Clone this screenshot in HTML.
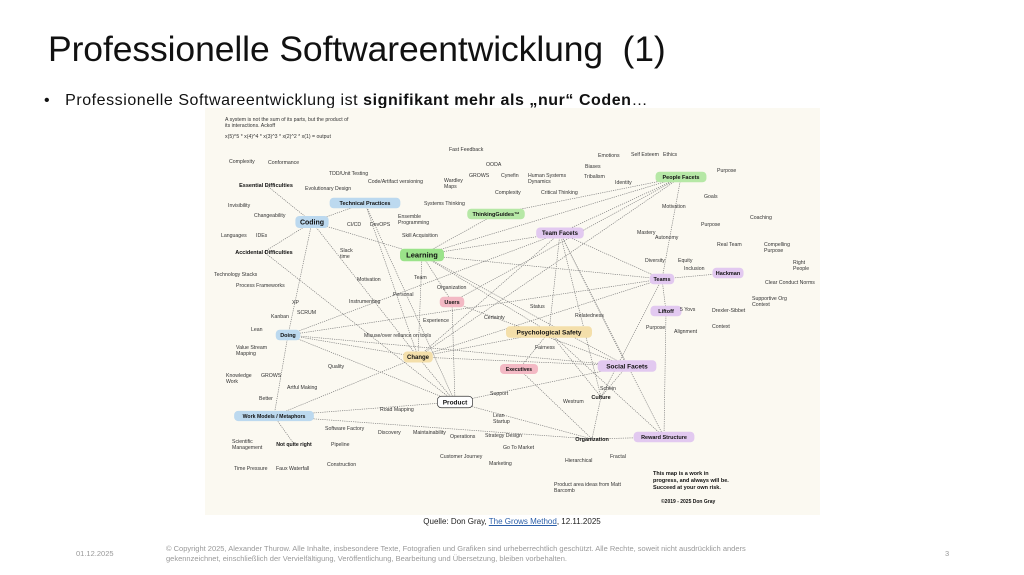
<!DOCTYPE html>
<html><head><meta charset="utf-8"><style>
html,body{margin:0;padding:0;background:#fff;}
body{width:1024px;height:575px;overflow:hidden;position:relative;font-family:"Liberation Sans",sans-serif;}
.t{position:absolute;left:48px;top:29px;font-size:35.5px;color:#111;letter-spacing:-0.1px;}
.b{position:absolute;left:44px;top:92px;font-size:16px;color:#111;letter-spacing:0.55px;}
.map{position:absolute;left:205px;top:108px;width:615px;height:407px;background:#fbf9f1;}
svg text{font-family:"Liberation Sans",sans-serif;font-size:5.2px;fill:#333;}
.q{position:absolute;left:0;width:1024px;text-align:center;top:517px;font-size:8px;color:#222;}
.f{position:absolute;font-size:7.5px;color:#999;}
</style></head><body>
<div class="t">Professionelle Softwareentwicklung&nbsp; (1)</div>
<div class="b">•&nbsp;&nbsp; Professionelle Softwareentwicklung ist <b>signifikant mehr als „nur“ Coden</b>…</div>
<div class="map"></div>
<svg width="1024" height="575" style="position:absolute;left:0;top:0">
<g id="L" stroke="#777" stroke-width="0.65" stroke-dasharray="1.2,1" fill="none"></g>
<g id="N"></g>
<text x="225" y="121">A system is not the sum of its parts, but the product of</text>
<text x="225" y="127">its interactions. Ackoff</text>
<text x="225" y="138">x(5)^5 * x(4)^4 * x(3)^3 * x(2)^2 * x(1) = output</text>
<text x="229" y="163">Complexity</text><text x="268" y="164">Conformance</text>
<text x="228" y="207">Invisibility</text><text x="254" y="217">Changeability</text>
<text x="221" y="237">Languages</text><text x="256" y="237">IDEs</text>
<text x="214" y="276">Technology Stacks</text><text x="236" y="287">Process Frameworks</text>
<text x="329" y="175">TDD/Unit Testing</text><text x="368" y="183">Code/Artifact versioning</text>
<text x="305" y="190">Evolutionary Design</text>
<text x="347" y="226">CI/CD</text><text x="370" y="226">DevOPS</text>
<text x="398" y="218">Ensemble</text><text x="398" y="224">Programming</text>
<text x="402" y="237">Skill Acquisition</text>
<text x="340" y="252">Slack</text><text x="340" y="258">time</text>
<text x="357" y="281">Motivation</text><text x="349" y="303">Instrumenting</text>
<text x="414" y="279">Team</text><text x="437" y="289">Organization</text><text x="393" y="296">Personal</text>
<text x="449" y="151">Fast Feedback</text><text x="486" y="166">OODA</text>
<text x="469" y="177">GROWS</text><text x="501" y="177">Cynefin</text>
<text x="444" y="182">Wardley</text><text x="444" y="188">Maps</text>
<text x="495" y="194">Complexity</text>
<text x="528" y="177">Human Systems</text><text x="528" y="183">Dynamics</text>
<text x="541" y="194">Critical Thinking</text>
<text x="424" y="205">Systems Thinking</text>
<text x="598" y="157">Emotions</text><text x="631" y="156">Self Esteem</text><text x="663" y="156">Ethics</text>
<text x="585" y="168">Biases</text><text x="584" y="178">Tribalism</text><text x="615" y="184">Identity</text>
<text x="717" y="172">Purpose</text><text x="704" y="198">Goals</text>
<text x="662" y="208">Motivation</text><text x="701" y="226">Purpose</text>
<text x="637" y="234">Mastery</text><text x="655" y="239">Autonomy</text>
<text x="750" y="219">Coaching</text>
<text x="717" y="246">Real Team</text>
<text x="764" y="246">Compelling</text><text x="764" y="252">Purpose</text>
<text x="793" y="264">Right</text><text x="793" y="270">People</text>
<text x="765" y="284">Clear Conduct Norms</text>
<text x="752" y="300">Supportive Org</text><text x="752" y="306">Context</text>
<text x="645" y="262">Diversity</text><text x="678" y="262">Equity</text><text x="684" y="270">Inclusion</text>
<text x="680" y="311">5 Yovs</text><text x="712" y="312">Drexler-Sibbet</text>
<text x="646" y="329">Purpose</text><text x="674" y="333">Alignment</text><text x="712" y="328">Context</text>
<text x="292" y="304">XP</text><text x="297" y="314">SCRUM</text>
<text x="271" y="318">Kanban</text><text x="251" y="331">Lean</text>
<text x="236" y="349">Value Stream</text><text x="236" y="355">Mapping</text>
<text x="226" y="377">Knowledge</text><text x="226" y="383">Work</text>
<text x="261" y="377">GROWS</text><text x="287" y="389">Artful Making</text><text x="259" y="400">Better</text>
<text x="328" y="368">Quality</text>
<text x="364" y="337">Misuse/over reliance on tools</text>
<text x="423" y="322">Experience</text><text x="484" y="319">Certainty</text>
<text x="530" y="308">Status</text><text x="575" y="317">Relatedness</text>
<text x="535" y="349">Fairness</text>
<text x="600" y="390">Schein</text><text x="563" y="403">Westrum</text>
<text x="380" y="411">Road Mapping</text><text x="490" y="395">Support</text>
<text x="493" y="417">Lean</text><text x="493" y="423">Startup</text>
<text x="325" y="430">Software Factory</text><text x="331" y="446">Pipeline</text>
<text x="232" y="443">Scientific</text><text x="232" y="449">Management</text>
<text x="378" y="434">Discovery</text><text x="413" y="434">Maintainability</text>
<text x="450" y="438">Operations</text><text x="485" y="437">Strategy Design</text>
<text x="503" y="449">Go To Market</text>
<text x="234" y="470">Time Pressure</text><text x="276" y="470">Faux Waterfall</text>
<text x="327" y="466">Construction</text>
<text x="440" y="458">Customer Journey</text><text x="489" y="465">Marketing</text>
<text x="565" y="462">Hierarchical</text><text x="610" y="458">Fractal</text>
<text x="554" y="486">Product area ideas from Matt</text><text x="554" y="492">Barcomb</text>
<g style="font-weight:bold"><text x="653" y="475" style="font-size:5.5px;fill:#111">This map is a work in</text>
<text x="653" y="482" style="font-size:5.5px;fill:#111">progress, and always will be.</text>
<text x="653" y="489" style="font-size:5.5px;fill:#111">Succeed at your own risk.</text>
<text x="661" y="503" style="font-size:5px;fill:#111">©2019 - 2025 Don Gray</text></g>
</svg>
<div class="q">Quelle: Don Gray, <span style="color:#2a5ea8;text-decoration:underline">The Grows Method</span>, 12.11.2025</div>
<div class="f" style="left:76px;top:549px;">01.12.2025</div>
<div class="f" style="left:166px;top:544px;line-height:10px;width:700px;">© Copyright 2025, Alexander Thurow. Alle Inhalte, insbesondere Texte, Fotografien und Grafiken sind urheberrechtlich geschützt. Alle Rechte, soweit nicht ausdrücklich anders<br>gekennzeichnet, einschließlich der Vervielfältigung, Veröffentlichung, Bearbeitung und Übersetzung, bleiben vorbehalten.</div>
<div class="f" style="left:945px;top:549px;">3</div>
<script>
var nodes=[
["Coding",312,222,"#bcd9ef",7],["Technical Practices",365,203,"#bcd9ef",5.5],
["Learning",422,255,"#9be38a",7.5],["ThinkingGuides™",496,214,"#b6e8a6",5.5],
["People Facets",681,177,"#b6e8a6",5.5],["Team Facets",560,233,"#e2c9f0",6],
["Teams",662,279,"#e2c9f0",5.5],["Hackman",728,273,"#e2c9f0",5.5],["Liftoff",666,311,"#e2c9f0",5.5],
["Users",452,302,"#f3b9c4",5.5],["Psychological Safety",549,332,"#f4dfaa",6.5],
["Change",418,357,"#f4dfaa",6],["Doing",288,335,"#bcd9ef",5.5],["Executives",519,369,"#f3b9c4",5],
["Social Facets",627,366,"#e2c9f0",6.5],["Culture",601,397,null,5.5],["Product",455,402,"#fff",6.5],
["Work Models / Metaphors",274,416,"#bcd9ef",5.2],["Organization",592,439,null,5.5],
["Reward Structure",664,437,"#e2c9f0",5.5],["Not quite right",294,444,null,5.2],
["Essential Difficulties",266,185,null,5.5],["Accidental Difficulties",264,252,null,5.5]];
var P={};nodes.forEach(function(n){P[n[0]]=[n[1],n[2]];});
var E=[["Coding","Technical Practices"],["Coding","Learning"],["Coding","Essential Difficulties"],["Coding","Accidental Difficulties"],["Coding","Doing"],["Coding","Change"],
["Learning","ThinkingGuides™"],["Learning","People Facets"],["Learning","Team Facets"],["Learning","Users"],["Learning","Change"],["Learning","Teams"],["Learning","Social Facets"],["Learning","Psychological Safety"],
["People Facets","Team Facets"],["People Facets","Teams"],["People Facets","Users"],["People Facets","Change"],["People Facets","ThinkingGuides™"],
["Team Facets","Teams"],["Team Facets","Social Facets"],["Team Facets","Culture"],["Team Facets","Psychological Safety"],["Team Facets","Reward Structure"],["Team Facets","Change"],["Team Facets","Doing"],
["Teams","Hackman"],["Teams","Liftoff"],["Teams","Doing"],["Teams","Change"],["Teams","Culture"],["Liftoff","Reward Structure"],
["Doing","Change"],["Doing","Work Models / Metaphors"],["Doing","Social Facets"],["Doing","Product"],["Work Models / Metaphors","Change"],["Work Models / Metaphors","Product"],["Work Models / Metaphors","Not quite right"],["Work Models / Metaphors","Organization"],
["Change","Product"],["Change","Social Facets"],["Change","Psychological Safety"],["Users","Product"],["Users","Social Facets"],["Psychological Safety","Culture"],["Psychological Safety","Reward Structure"],["Psychological Safety","Executives"],
["Product","Organization"],["Product","Social Facets"],["Culture","Organization"],["Culture","Social Facets"],["Organization","Reward Structure"],["Executives","Organization"],["Accidental Difficulties","Product"],["Technical Practices","Product"],["Technical Practices","Change"]];
var ns="http://www.w3.org/2000/svg",L=document.getElementById("L"),N=document.getElementById("N");
E.forEach(function(e){var a=P[e[0]],b=P[e[1]],l=document.createElementNS(ns,"line");l.setAttribute("x1",a[0]);l.setAttribute("y1",a[1]);l.setAttribute("x2",b[0]);l.setAttribute("y2",b[1]);L.appendChild(l);});
nodes.forEach(function(n){var w=n[0].length*n[4]*0.6+8,h=n[4]+5;
if(n[3]){var r=document.createElementNS(ns,"rect");r.setAttribute("x",n[1]-w/2);r.setAttribute("y",n[2]-h/2);r.setAttribute("width",w);r.setAttribute("height",h);r.setAttribute("rx",4);r.setAttribute("fill",n[3]);if(n[3]=="#fff"){r.setAttribute("stroke","#333");r.setAttribute("stroke-width","0.7");}N.appendChild(r);}
var t=document.createElementNS(ns,"text");t.setAttribute("x",n[1]);t.setAttribute("y",n[2]+n[4]*0.35);t.setAttribute("text-anchor","middle");t.setAttribute("style","font-size:"+n[4]+"px;font-weight:bold;fill:#111");t.textContent=n[0];N.appendChild(t);});
</script>
</body></html>
